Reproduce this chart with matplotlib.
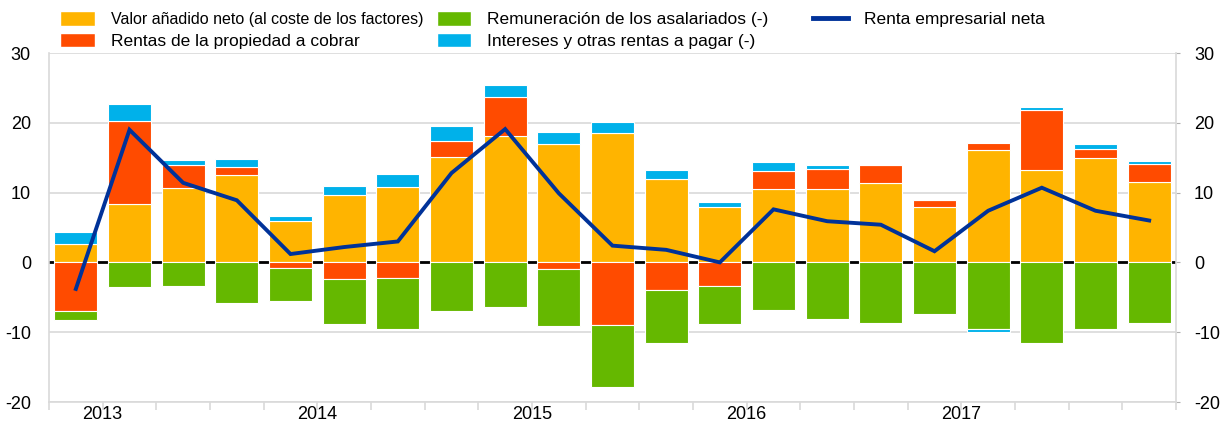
import matplotlib
matplotlib.use("Agg")
import matplotlib.pyplot as plt
import numpy as np
from matplotlib.patches import Patch
from matplotlib.lines import Line2D

plt.rcParams['font.family'] = ['Liberation Sans', 'DejaVu Sans']
plt.rcParams['axes.unicode_minus'] = False

years = ["2013", "2014", "2015", "2016", "2017"]
valor_anadido = [2.6, 8.4, 10.6, 12.5, 6.0, 9.6, 10.8, 15.1, 18.1, 17.0, 18.6, 11.9, 8.0, 10.5, 10.5, 11.4, 7.9, 16.1, 13.2, 14.9, 11.5]
rentas_cobrar = [-7.0, 11.8, 3.4, 1.1, -0.8, -2.4, -2.2, 2.3, 5.6, -0.9, -8.9, -4.0, -3.4, 2.6, 2.9, 2.6, 1.0, 1.0, 8.6, 1.4, 2.6]
remuneracion = [-1.2, -3.5, -3.4, -5.8, -4.7, -6.4, -7.4, -6.9, -6.4, -8.2, -9.0, -7.5, -5.4, -6.8, -8.1, -8.7, -7.4, -9.5, -11.5, -9.6, -8.7]
intereses = [1.7, 2.5, 0.7, 1.2, 0.7, 1.4, 1.8, 2.1, 1.7, 1.7, 1.5, 1.3, 0.6, 1.3, 0.6, 0.0, 0.0, -0.4, 0.4, 0.6, 0.4]
renta_neta = [-3.8, 19.0, 11.4, 8.9, 1.2, 2.2, 3.0, 12.8, 19.1, 9.9, 2.4, 1.8, 0.0, 7.6, 5.9, 5.4, 1.6, 7.4, 10.7, 7.4, 6.0]

labels = ["Valor añadido neto (al coste de los factores)", "Rentas de la propiedad a cobrar",
          "Remuneración de los asalariados (-)", "Intereses y otras rentas a pagar (-)",
          "Renta empresarial neta"]
colors = ["#FFB400", "#FF4B00", "#65B800", "#00B1EA"]
line_color = "#003299"

fig = plt.figure(figsize=(12.24, 4.28), dpi=100)
ax = fig.add_axes([49/1224, 1-402/428, (1176-49)/1224, (402-53)/428])

n = len(valor_anadido)
x = np.arange(n)
series = [valor_anadido, rentas_cobrar, remuneracion, intereses]
pos_base = np.zeros(n)
neg_base = np.zeros(n)
ax.axhline(0, color="black", lw=2, zorder=1)
for vals, c in zip(series, colors):
    v = np.array(vals, dtype=float)
    bottom = np.where(v >= 0, pos_base, neg_base)
    ax.bar(x, v, bottom=bottom, width=0.8, color=c, edgecolor="white", linewidth=0.8, zorder=2)
    pos_base = pos_base + np.where(v > 0, v, 0)
    neg_base = neg_base + np.where(v < 0, v, 0)

ax.plot(x, renta_neta, color=line_color, lw=2.8, zorder=3, solid_joinstyle="miter")

ax.set_xlim(-0.5, n - 0.5)
ax.set_ylim(-20, 30)
ax.set_yticks([-20, -10, 0, 10, 20, 30])
ax.grid(axis="y", color="#d9d9d9", lw=1.2, zorder=0)
ax.set_axisbelow(True)
for s in ["left", "right", "bottom"]:
    ax.spines[s].set_color("#d9d9d9")
    ax.spines[s].set_linewidth(1.2)
ax.spines["top"].set_visible(False)

ax.tick_params(axis="y", which="both", left=False, right=True, labelleft=True, labelright=True,
               labelsize=13, length=3, color="#b0b0b0", pad=10)

bounds = np.arange(-0.5, n, 1.0)
ax.set_xticks(bounds)
ax.set_xticklabels([""] * len(bounds))
ax.tick_params(axis="x", length=6, color="#d9d9d9", width=1.2)
year_pos = [0.5, 4.5, 8.5, 12.5, 16.5]
for yp, yl in zip(year_pos, years):
    ax.text(yp, -20.6, yl, ha="center", va="top", fontsize=13, transform=ax.transData)

# Legends
fs = 12.5
kw = dict(loc="upper left", frameon=False, fontsize=fs, handlelength=2.0, handleheight=0.92,
          handletextpad=0.92, labelspacing=0.3)
ytop = 1.02 - 4/428
h = [Patch(facecolor=colors[0], edgecolor="white"), Patch(facecolor=colors[1], edgecolor="white")]
leg1 = fig.legend(h, labels[0:2], bbox_to_anchor=(44.5/1224, ytop), **kw)
leg1.get_texts()[0].set_fontsize(11.5)
h2 = [Patch(facecolor=colors[2], edgecolor="white"), Patch(facecolor=colors[3], edgecolor="white")]
fig.legend(h2, labels[2:4], bbox_to_anchor=(421/1224, ytop), **kw)
h3 = [Line2D([0], [0], color=line_color, lw=3.5)]
fig.legend(h3, labels[4:5], bbox_to_anchor=(797.5/1224, ytop), **kw)

fig.savefig("out.png", dpi=100)
